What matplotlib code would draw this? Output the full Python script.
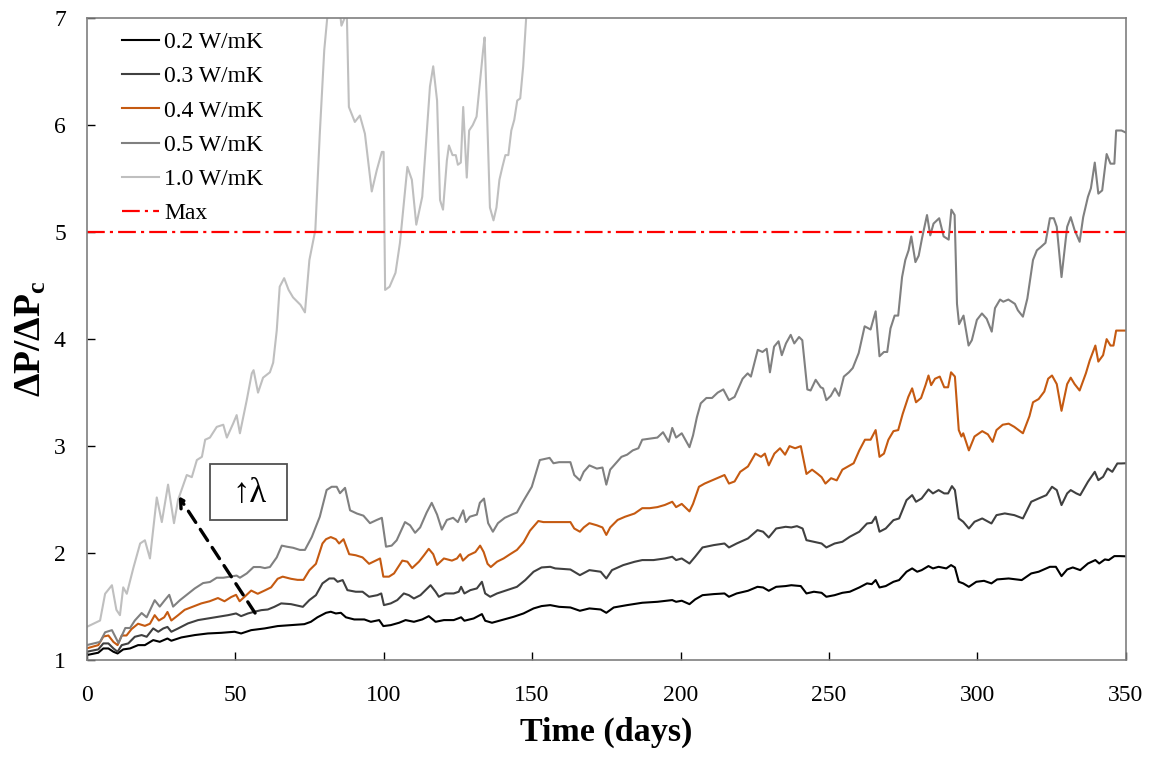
import matplotlib
matplotlib.use("Agg")
import matplotlib.pyplot as plt
from matplotlib.patches import Rectangle

plt.rcParams['font.family'] = ['Liberation Serif', 'DejaVu Serif']
plt.rcParams['mathtext.fontset'] = 'custom'
plt.rcParams['mathtext.rm'] = 'Liberation Serif'
plt.rcParams['mathtext.bf'] = 'Liberation Serif:bold'
plt.rcParams['mathtext.it'] = 'Liberation Serif:italic'

# ---- series data: time (days) and pressure-drop ratio ----
days_02 = [0, 3.9, 5.6, 7.3, 9, 10.4, 12.3, 14.6, 17.3, 19.6, 22.4, 24.6, 27.2, 28.5, 31.9, 36.4,
           40.8, 45.3, 49.8, 52, 55.4, 59.9, 64.3, 68.8, 73.3, 75.5, 77.7, 80.6, 82.2, 83.9, 85.6,
           87.3, 90.1, 93.5, 95.7, 98.5, 99.9, 102.4, 105.2, 107.4, 110.2, 113, 115.2, 117.5,
           120.3, 123.6, 126.1, 127.2, 130.3, 133.1, 134.2, 136.5, 139.8, 143.8, 147.1, 150.5,
           153.2, 156.1, 159.1, 162.9, 166.1, 169.3, 173.1, 175, 177.5, 182, 187.1, 192.2, 197.2,
           198.5, 200.4, 203, 204.9, 207.4, 211.2, 214.8, 216.3, 218.9, 222.7, 225.9, 227.8,
           229.7, 232.2, 235.4, 237.3, 240.5, 242.4, 244.9, 247.5, 249.1, 251.9, 254.5, 257,
           260.2, 262.8, 264.4, 265.7, 267, 269.1, 271.7, 273.6, 276.1, 278, 279.7, 281.2, 283.5,
           285, 286.9, 289.5, 291.1, 292.4, 293.7, 295.2, 297.1, 299.6, 302.2, 304.7, 306.6,
           310.5, 314.9, 318.1, 320.6, 324.4, 326.4, 328.3, 330.2, 332.1, 334.6, 337.2, 339.7,
           341, 342.9, 344.2, 346.1, 348, 350]
vals_02 = [1.047, 1.069, 1.109, 1.109, 1.078, 1.062, 1.10, 1.109, 1.14, 1.14, 1.187, 1.171, 1.202,
           1.181, 1.212, 1.234, 1.249, 1.255, 1.265, 1.249, 1.28, 1.296, 1.318, 1.327, 1.336, 1.358,
           1.40, 1.442, 1.452, 1.436, 1.442, 1.40, 1.38, 1.38, 1.358, 1.374, 1.318, 1.327, 1.349,
           1.374, 1.358, 1.38, 1.411, 1.358, 1.374, 1.374, 1.40, 1.368, 1.389, 1.43, 1.368, 1.349,
           1.374, 1.405, 1.436, 1.483, 1.505, 1.514, 1.498, 1.492, 1.461, 1.483, 1.473, 1.442,
           1.492, 1.514, 1.536, 1.545, 1.561, 1.545, 1.555, 1.523, 1.567, 1.607, 1.617, 1.623,
           1.592, 1.623, 1.648, 1.685, 1.679, 1.648, 1.685, 1.692, 1.70, 1.692, 1.623, 1.639,
           1.629, 1.592, 1.607, 1.629, 1.639, 1.679, 1.717, 1.71, 1.748, 1.679, 1.692, 1.732,
           1.748, 1.826, 1.857, 1.826, 1.841, 1.879, 1.857, 1.872, 1.857, 1.888, 1.866, 1.732,
           1.717, 1.685, 1.732, 1.741, 1.717, 1.754, 1.763, 1.748, 1.81, 1.826, 1.872, 1.872,
           1.785, 1.847, 1.866, 1.841, 1.903, 1.935, 1.903, 1.941, 1.935, 1.972, 1.972, 1.97]

days_03 = [0, 3.9, 5.6, 7.3, 9, 10.4, 11.8, 14, 16.2, 18.5, 20.2, 22.4, 24.1, 25.8, 27.2, 28.5,
           30.8, 34.1, 37.5, 40.8, 44.2, 47.6, 50.3, 52, 54.3, 56.5, 58.8, 61, 63.2, 65.5, 68.8,
           72.8, 75, 77.2, 79.4, 81.7, 83.3, 84.5, 86.2, 87.8, 90.6, 92.9, 95.1, 97.9, 99.2, 100.1,
           102.4, 104.6, 106.8, 108.5, 110.2, 112.4, 114.7, 115.8, 117.5, 118.6, 120.8, 123.6,
           125.3, 126.1, 127.2, 129.2, 131.4, 133.1, 134.2, 135.9, 138.2, 141.5, 144.9, 147.7,
           150.5, 153.2, 156.1, 157.8, 162.9, 166.1, 169.3, 173.1, 175, 176.9, 180.7, 184.5,
           187.1, 190.9, 194.7, 197.2, 198.5, 200.4, 203, 204.9, 207.4, 211.2, 214.8, 216.3,
           218.9, 222.7, 225.9, 227.8, 229.7, 232.2, 235.4, 237.3, 239.2, 241.1, 242.4, 244.9,
           247.5, 249.1, 251.9, 254.5, 257, 260.2, 262.8, 264.4, 265.7, 267, 269.1, 271.7, 273.6,
           276.1, 278, 279.3, 281.2, 283.5, 285, 286.9, 288.8, 290.1, 291.4, 292.4, 293.7, 295.2,
           297.1, 299, 301.6, 304.7, 306.4, 309.2, 312.4, 315.3, 318.1, 320.6, 323.2, 325.1,
           326.7, 328.3, 330.2, 331.4, 333.3, 334.6, 337.2, 339.5, 340.7, 342.3, 343.8, 345.4,
           347.1, 348.4, 350]
vals_03 = [1.078, 1.10, 1.156, 1.156, 1.109, 1.078, 1.14, 1.156, 1.218, 1.234, 1.218, 1.296, 1.265,
           1.296, 1.31, 1.265, 1.296, 1.343, 1.374, 1.389, 1.405, 1.42, 1.436, 1.411, 1.436, 1.452,
           1.467, 1.473, 1.498, 1.53, 1.523, 1.498, 1.561, 1.607, 1.717, 1.763, 1.763, 1.732,
           1.748, 1.654, 1.639, 1.639, 1.592, 1.607, 1.623, 1.514, 1.53, 1.561, 1.623, 1.607,
           1.576, 1.607, 1.67, 1.70, 1.639, 1.592, 1.623, 1.623, 1.639, 1.685, 1.623, 1.654, 1.67,
           1.732, 1.623, 1.592, 1.623, 1.654, 1.685, 1.748, 1.826, 1.866, 1.872, 1.857, 1.847,
           1.794, 1.841, 1.826, 1.763, 1.841, 1.888, 1.919, 1.935, 1.935, 1.95, 1.966, 1.935, 1.95,
           1.903, 1.966, 2.053, 2.075, 2.09, 2.053, 2.09, 2.137, 2.215, 2.20, 2.146, 2.23, 2.246,
           2.24, 2.252, 2.23, 2.121, 2.106, 2.09, 2.053, 2.09, 2.106, 2.153, 2.20, 2.277, 2.283,
           2.34, 2.20, 2.23, 2.308, 2.324, 2.495, 2.542, 2.48, 2.511, 2.595, 2.558, 2.589, 2.558,
           2.558, 2.626, 2.589, 2.324, 2.293, 2.23, 2.293, 2.324, 2.277, 2.355, 2.371, 2.355,
           2.324, 2.48, 2.511, 2.542, 2.62, 2.589, 2.449, 2.558, 2.589, 2.558, 2.542, 2.667, 2.76,
           2.682, 2.713, 2.791, 2.76, 2.838, 2.838, 2.84]

days_04 = [0, 3.9, 5.6, 7.3, 9, 10.4, 11.8, 13.4, 15.1, 17.3, 19.6, 21.3, 22.9, 24.3, 26.1, 27.2,
           28.5, 30.8, 33, 35.8, 38.6, 41.4, 44.2, 46.4, 48.7, 50.3, 51.5, 53.1, 55.4, 57.6, 59.9,
           62.1, 64.3, 66, 68.8, 71, 73, 75, 77.2, 79.4, 80.6, 82.2, 83.9, 85, 86.5, 88.4, 90.6,
           92.9, 95.1, 97.3, 98.8, 99.9, 101.8, 103.5, 106.3, 108, 109.6, 111.9, 113.6, 115.2,
           116.7, 118, 120.3, 123, 124.7, 125.8, 126.7, 128.6, 130.9, 132.5, 133.7, 135, 136.1,
           138.2, 140.4, 142.6, 144.9, 147.1, 149.3, 152.1, 153.8, 155.9, 159.1, 162.9, 164.2,
           166.1, 167.4, 169.3, 171.8, 173.7, 175, 176.3, 178.8, 181.3, 184.5, 187.1, 189.6,
           192.2, 194.7, 197.2, 198.5, 200.4, 203, 204.2, 206.2, 208.1, 210.6, 213.1, 214.8,
           216.3, 218.2, 220.1, 222.7, 225.2, 227.1, 228.4, 229.7, 231.6, 233.5, 235.2, 236.7,
           238.6, 240.5, 242.4, 244.3, 246.2, 247.5, 248.8, 250.7, 252.6, 254.5, 256.4, 258.3,
           260.2, 262.1, 264, 265.7, 267, 268.5, 270, 271.7, 273.3, 274.8, 276.7, 278, 279.3,
           281, 282.5, 283.5, 284.4, 285.7, 287.3, 288.8, 290.1, 291.1, 292.4, 293.7, 294.6,
           295.2, 297.1, 299, 301.6, 303.5, 305.1, 306.4, 308.5, 310.5, 312.4, 315.3, 317.5,
           318.7, 320.6, 322.5, 323.8, 325.1, 326.7, 328.3, 330.2, 331.4, 332.7, 334.4, 336.5,
           337.8, 339.7, 340.7, 342.3, 343.5, 344.8, 345.8, 346.7, 350]
vals_04 = [1.11, 1.14, 1.22, 1.23, 1.17, 1.14, 1.23, 1.23, 1.29, 1.34, 1.32, 1.34, 1.42, 1.37,
           1.40, 1.45, 1.37, 1.42, 1.47, 1.50, 1.53, 1.55, 1.58, 1.55, 1.59, 1.61, 1.55, 1.59,
           1.65, 1.62, 1.65, 1.68, 1.76, 1.78, 1.76, 1.75, 1.75, 1.84, 1.90, 2.09, 2.13, 2.15,
           2.13, 2.09, 2.13, 1.99, 1.98, 1.96, 1.90, 1.93, 1.95, 1.78, 1.78, 1.81, 1.93, 1.92,
           1.86, 1.92, 1.98, 2.04, 1.99, 1.89, 1.95, 1.93, 1.95, 1.99, 1.93, 1.98, 2.01, 2.07,
           2.01, 1.90, 1.87, 1.92, 1.95, 1.99, 2.03, 2.10, 2.21, 2.30, 2.29, 2.29, 2.29, 2.29,
           2.23, 2.20, 2.24, 2.28, 2.26, 2.24, 2.17, 2.24, 2.31, 2.34, 2.37, 2.42, 2.42, 2.43,
           2.45, 2.48, 2.43, 2.46, 2.39, 2.46, 2.62, 2.65, 2.68, 2.71, 2.73, 2.65, 2.67, 2.76,
           2.81, 2.93, 2.90, 2.93, 2.82, 2.93, 2.98, 2.92, 3.00, 2.98, 3.00, 2.74, 2.78, 2.74,
           2.71, 2.65, 2.70, 2.68, 2.78, 2.81, 2.84, 2.96, 3.06, 3.06, 3.15, 2.90, 2.93, 3.06,
           3.14, 3.15, 3.30, 3.46, 3.54, 3.41, 3.45, 3.57, 3.66, 3.57, 3.63, 3.65, 3.55, 3.55,
           3.69, 3.65, 3.15, 3.09, 3.12, 2.96, 3.09, 3.14, 3.11, 3.04, 3.15, 3.20, 3.21, 3.18,
           3.12, 3.28, 3.41, 3.44, 3.51, 3.63, 3.66, 3.58, 3.33, 3.58, 3.64, 3.58, 3.52, 3.68,
           3.80, 3.94, 3.79, 3.85, 4.00, 3.94, 3.94, 4.08, 4.08]

days_05 = [0, 4.5, 6.2, 8.5, 9.6, 10.7, 13, 14.6, 16.2, 18.5, 20.2, 22.9, 24.6, 26.3, 27.8, 29.1,
           31.4, 33.7, 36.4, 39.2, 41.5, 43.8, 46, 48.2, 50.5, 51.6, 53.9, 56.2, 58.4, 60, 61.7,
           64, 65.7, 67.4, 69.5, 71.8, 73.5, 75.8, 78.5, 80.8, 82.5, 84.2, 85.3, 87, 88.7, 91,
           93.2, 95.4, 97.7, 99.4, 100.8, 102.7, 104.4, 107.2, 108.9, 110.6, 112.3, 114.5, 116.2,
           118, 119.6, 121.3, 123.4, 125, 126.8, 127.7, 129, 131.4, 132.4, 133.8, 135.2, 136.8,
           138.5, 140.8, 143.2, 144.9, 146.9, 149.9, 152.6, 155.9, 157.2, 159.1, 162.9, 164.2,
           166.1, 167.4, 169.3, 171.8, 173.7, 175, 176.3, 178.2, 180.1, 182, 183.9, 185.8, 187.1,
           189.6, 192.2, 194.1, 196, 197.2, 198.5, 200.4, 203, 204.2, 205.5, 206.8, 208.7, 210.6,
           212.5, 214.4, 216.3, 218.2, 220.9, 222.6, 223.7, 226, 227.6, 229, 230.1, 231.5, 233,
           234.1, 235.5, 237.1, 238.3, 239.9, 241, 242.7, 243.8, 245.5, 247.2, 248, 249.1, 250.6,
           252, 253.4, 255, 256.7, 258, 260, 262, 264, 265.7, 267, 268.5, 269.6, 270.7, 272.1,
           273.3, 274.6, 275.7, 276.8, 277.7, 279.1, 280.2, 281.3, 283, 284.1, 285.2, 287.1,
           288.6, 290.3, 291.2, 292.3, 293.1, 293.8, 295.3, 297, 298.1, 299.8, 301.5, 303.1,
           304.8, 305.9, 307.6, 308.7, 310.4, 312.6, 313.6, 315.3, 316.8, 318.7, 320, 321.3,
           322.9, 324.4, 325.7, 326.7, 328.3, 330.2, 331.4, 332.7, 334.4, 335.6, 337.2, 338.2,
           339.5, 340.7, 342, 343.5, 344.8, 346.1, 346.7, 348.5, 350]
vals_05 = [1.14, 1.17, 1.26, 1.28, 1.22, 1.16, 1.30, 1.30, 1.37, 1.44, 1.40, 1.56, 1.50, 1.56,
           1.61, 1.50, 1.56, 1.61, 1.67, 1.72, 1.73, 1.77, 1.77, 1.78, 1.79, 1.77, 1.81, 1.87,
           1.87, 1.86, 1.87, 1.96, 2.07, 2.06, 2.05, 2.03, 2.03, 2.15, 2.34, 2.59, 2.62, 2.62,
           2.56, 2.61, 2.40, 2.37, 2.35, 2.28, 2.31, 2.33, 2.06, 2.07, 2.12, 2.29, 2.26, 2.19,
           2.24, 2.38, 2.47, 2.36, 2.22, 2.31, 2.33, 2.29, 2.40, 2.29, 2.34, 2.36, 2.47, 2.51,
           2.28, 2.20, 2.28, 2.33, 2.36, 2.38, 2.48, 2.62, 2.87, 2.89, 2.84, 2.85, 2.85, 2.73,
           2.68, 2.76, 2.82, 2.79, 2.80, 2.64, 2.78, 2.84, 2.90, 2.92, 2.96, 2.98, 3.06, 3.07,
           3.08, 3.13, 3.04, 3.17, 3.08, 3.12, 2.99, 3.10, 3.27, 3.40, 3.45, 3.45, 3.50, 3.53,
           3.43, 3.46, 3.63, 3.68, 3.65, 3.90, 3.88, 3.91, 3.69, 3.93, 3.98, 3.85, 3.96, 4.04,
           3.96, 4.02, 3.99, 3.53, 3.52, 3.62, 3.55, 3.54, 3.43, 3.47, 3.54, 3.47, 3.65, 3.69,
           3.73, 3.87, 4.12, 4.09, 4.26, 3.84, 3.88, 3.88, 4.10, 4.22, 4.22, 4.58, 4.74, 4.83,
           4.96, 4.72, 4.78, 4.94, 5.16, 4.97, 5.08, 5.13, 4.96, 4.93, 5.21, 5.16, 4.33, 4.14,
           4.22, 3.94, 3.99, 4.18, 4.24, 4.19, 4.07, 4.29, 4.37, 4.35, 4.37, 4.33, 4.27, 4.21,
           4.38, 4.74, 4.83, 4.86, 4.90, 5.13, 5.13, 5.05, 4.58, 5.05, 5.14, 5.02, 4.91, 5.14,
           5.33, 5.41, 5.65, 5.36, 5.39, 5.73, 5.64, 5.64, 5.95, 5.95, 5.93]

days_10 = [0, 4.5, 6.2, 8.5, 10, 11.2, 12.3, 13.5, 15.7, 18, 19.6, 21.3, 23.6, 25.3, 27.4, 29.4,
           30.8, 33.7, 35.4, 37.1, 38.8, 39.9, 41.5, 43.8, 46, 47.2, 49.3, 50.5, 51.6, 53.9, 55.6,
           56.2, 57.7, 59.4, 61.7, 62.8, 64, 65, 66.5, 68, 69.5, 72, 73.5, 75, 77, 78.5, 80, 81,
           83, 85.3, 85.8, 87.6, 88.3, 90.3, 92, 93.7, 96, 97.7, 99.4, 100, 100.5, 102, 104,
           105.5, 108, 109.5, 111, 113, 114.5, 115.6, 116.7, 118, 119, 120, 121.3, 122, 123.2,
           124.3, 125, 126, 126.8, 128, 128.8, 130, 131.3, 132.4, 133.5, 134, 134.7, 135.8, 137,
           138, 139, 140, 141, 142, 143, 144, 145, 146, 147, 148, 149.5]
vals_10 = [1.31, 1.37, 1.62, 1.70, 1.47, 1.42, 1.68, 1.62, 1.86, 2.09, 2.12, 1.95, 2.52, 2.29,
           2.64, 2.28, 2.50, 2.73, 2.71, 2.87, 2.90, 3.06, 3.08, 3.18, 3.20, 3.08, 3.21, 3.29,
           3.12, 3.43, 3.68, 3.71, 3.50, 3.64, 3.69, 3.78, 4.08, 4.49, 4.57, 4.46, 4.39, 4.32,
           4.25, 4.74, 5.02, 5.92, 6.70, 7.0, 7.4, 7.05, 6.93, 7.05, 6.17, 6.03, 6.09, 5.92, 5.38,
           5.58, 5.75, 5.75, 4.46, 4.49, 4.62, 4.90, 5.61, 5.49, 5.07, 5.33, 5.92, 6.36, 6.55,
           6.23, 5.30, 5.21, 5.67, 5.81, 5.72, 5.72, 5.63, 5.65, 6.17, 5.51, 5.95, 6.00, 6.08,
           6.39, 6.70, 6.82, 6.23, 5.23, 5.11, 5.23, 5.49, 5.61, 5.72, 5.72, 5.95, 6.05, 6.23,
           6.25, 6.55, 7.0, 7.5]

max_ratio = 5.0
labels = ['0.2 W/mK', '0.3 W/mK', '0.4 W/mK', '0.5 W/mK', '1.0 W/mK']
colors = ['#000000', '#404040', '#C55A11', '#808080', '#BFBFBF']
x_ticks = [0, 50, 100, 150, 200, 250, 300, 350]
y_ticks = [1, 2, 3, 4, 5, 6, 7]

fig = plt.figure(figsize=(11.56, 7.57), dpi=100)
ax = fig.add_axes([0.075, 0.128, 0.899, 0.848])

series = [(days_02, vals_02), (days_03, vals_03), (days_04, vals_04),
          (days_05, vals_05), (days_10, vals_10)]
for (d, v), lab, col in zip(series, labels, colors):
    ax.plot(d, v, color=col, lw=1.5, label=lab, solid_joinstyle='round')

ax.axhline(max_ratio, color='#FF0000', lw=1.6, dashes=(8, 2.3, 1.4, 2.3), label='Max')

ax.set_xlim(0, 350)
ax.set_ylim(1, 7)
ax.set_xticks(x_ticks)
ax.set_yticks(y_ticks)
ax.tick_params(direction='in', length=6, width=1, labelsize=17, colors='#000000')
ax.tick_params(axis='x', pad=18)
ax.tick_params(axis='y', pad=15)
for sp in ax.spines.values():
    sp.set_color('#7F7F7F')
    sp.set_linewidth(1.2)

ax.set_xlabel('Time (days)', fontsize=24.5, fontweight='bold', labelpad=8)
ax.set_ylabel(r'$\mathbf{\Delta P/\Delta P_c}$', fontsize=27, labelpad=4)

leg = ax.legend(loc='upper left', frameon=False, fontsize=17, handlelength=1.57,
                handletextpad=0.22, labelspacing=0.54, borderaxespad=0.0,
                bbox_to_anchor=(0.025, 0.994))

# direction of increasing conductivity
ax.annotate('', xy=(31, 2.53), xytext=(56.7, 1.44),
            arrowprops=dict(arrowstyle='->,head_length=0.6,head_width=0.35', lw=2.4,
                            linestyle=(0, (4, 2.5)), color='black', shrinkA=0, shrinkB=0))
ax.add_patch(Rectangle((41.4, 2.31), 26.2, 0.52, fill=True, fc='white', ec='#505050',
                       lw=1.3, zorder=4))
ax.text(54.8, 2.56, '\u2191\u03bb', fontsize=25, ha='center', va='center', zorder=5)

fig.savefig('out.png', dpi=100)
